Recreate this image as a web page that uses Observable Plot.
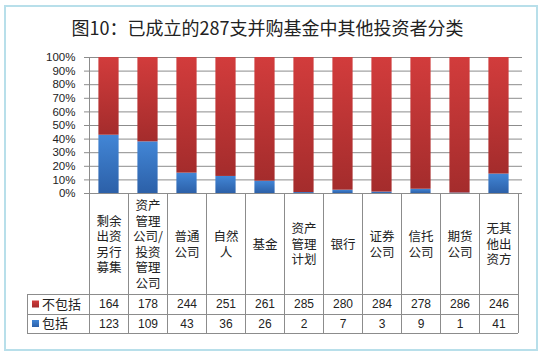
<!DOCTYPE html>
<html><head><meta charset="utf-8">
<script src="https://cdn.jsdelivr.net/npm/d3@7"></script>
<script src="https://cdn.jsdelivr.net/npm/@observablehq/plot@0.6"></script>
<style>
body{margin:0;background:#fff;}
#wrap{position:relative;width:541px;height:353px;overflow:hidden;font-family:"Noto Sans CJK SC",sans-serif;}
#border{position:absolute;left:4px;top:5px;width:530px;height:342px;border:2px solid #b8dfea;}
#title{position:absolute;left:0;top:14px;width:535px;text-align:center;font-size:18px;line-height:26px;color:#222;}
#chart{position:absolute;left:0;top:0;}
</style></head><body>
<div id="wrap"><div id="border"></div><div id="title">图10：已成立的287支并购基金中其他投资者分类</div><div id="chart"></div></div>
<script>
const categories = ["剩余出资另行募集","资产管理公司/投资管理公司","普通公司","自然人","基金","资产管理计划","银行","证券公司","信托公司","期货公司","无其他出资方"];
const categoryLabels = ["剩余\n出资\n另行\n募集","资产\n管理\n公司/\n投资\n管理\n公司","普通\n公司","自然\n人","基金","资产\n管理\n计划","银行","证券\n公司","信托\n公司","期货\n公司","无其\n他出\n资方"];
const excluded = [164,178,244,251,261,285,280,284,278,286,246];
const included = [123,109,43,36,26,2,7,3,9,1,41];
const seriesNames = ["不包括","包括"];
const yTicks = [0,0.1,0.2,0.3,0.4,0.5,0.6,0.7,0.8,0.9,1];

const data = categories.flatMap((c,i)=>[
  {cat:c, series:"包括", value:included[i]},
  {cat:c, series:"不包括", value:excluded[i]}
]);

const fontLatin = "'Liberation Sans', Arial, sans-serif";
const fontCJK = "'Noto Sans CJK SC', sans-serif";

const plot = Plot.plot({
  width:541, height:353,
  marginLeft:84, marginRight:19, marginTop:57, marginBottom:160,
  style:{fontFamily:fontLatin, fontSize:"11px", color:"#222", background:"transparent"},
  x:{domain:categories, padding:0, axis:null},
  y:{domain:[0,1], axis:null},
  color:{domain:seriesNames, range:["url(#gRed)","url(#gBlue)"]},
  marks:[
    Plot.gridY({ticks:yTicks, stroke:"#8c8c8c", strokeOpacity:1}),
    Plot.axisY({ticks:yTicks, tickFormat:d3.format(".0%"), tickSize:0, tickPadding:9, label:null, fontSize:11.5}),
    Plot.barY(data, Plot.stackY({x:"cat", y:"value", fill:"series", offset:"normalize", insetLeft:9.4, insetRight:9.4})),
    Plot.text(categories, {x:d=>d, text:(d,i)=>categoryLabels[i], frameAnchor:"bottom", dy:50.5, lineAnchor:"middle", lineHeight:1.24, fontSize:12.5, fontFamily:fontCJK, fill:"#222"}),
    Plot.text(categories, {x:d=>d, text:(d,i)=>String(excluded[i]), frameAnchor:"bottom", dy:111, lineAnchor:"middle", fontSize:12, fill:"#222"}),
    Plot.text(categories, {x:d=>d, text:(d,i)=>String(included[i]), frameAnchor:"bottom", dy:130.5, lineAnchor:"middle", fontSize:12, fill:"#222"})
  ]
});

const svg = d3.select(plot);
const defs = svg.insert("defs", ":first-child");
const gr = defs.append("linearGradient").attr("id","gRed").attr("x1",0).attr("y1",0).attr("x2",0).attr("y2",1);
gr.append("stop").attr("offset","0%").attr("stop-color","#d23c3c");
gr.append("stop").attr("offset","100%").attr("stop-color","#a42c2c");
const gb = defs.append("linearGradient").attr("id","gBlue").attr("x1",0).attr("y1",0).attr("x2",0).attr("y2",1);
gb.append("stop").attr("offset","0%").attr("stop-color","#4286d6");
gb.append("stop").attr("offset","100%").attr("stop-color","#2c60a8");

// table grid, aligned with the plot's scales
const xs = plot.scale("x"), ys = plot.scale("y");
const y0 = ys.apply(0), yTop = ys.apply(1);
const bounds = categories.map(c=>xs.apply(c));
bounds.push(xs.apply(categories[categories.length-1]) + xs.bandwidth);
const xL = bounds[0], xR = bounds[bounds.length-1];
const rowCat = y0 + 101, rowEx = y0 + 121, rowIn = y0 + 140;
const labelLeft = 27;
const g = svg.append("g").attr("stroke","#8c8c8c").attr("stroke-width",1).attr("shape-rendering","crispEdges");
g.append("line").attr("x1",xL).attr("x2",xL).attr("y1",yTop).attr("y2",rowIn);
bounds.slice(1).forEach(b=>g.append("line").attr("x1",b).attr("x2",b).attr("y1",y0).attr("y2",rowIn));
g.append("line").attr("x1",xL).attr("x2",xR).attr("y1",y0).attr("y2",y0);
[rowCat,rowEx,rowIn].forEach(yy=>g.append("line").attr("x1",labelLeft).attr("x2",xR).attr("y1",yy).attr("y2",yy));
g.append("line").attr("x1",labelLeft).attr("x2",labelLeft).attr("y1",rowCat).attr("y2",rowIn);

// row labels with legend swatches
const rows = [{name:seriesNames[0], fill:"url(#gRed)", cy:(rowCat+rowEx)/2},{name:seriesNames[1], fill:"url(#gBlue)", cy:(rowEx+rowIn)/2}];
const lg = svg.append("g").attr("text-anchor","start");
rows.forEach(r=>{
  lg.append("rect").attr("x",32).attr("y",r.cy-3.5).attr("width",7).attr("height",7).attr("fill",r.fill);
  lg.append("text").attr("x",42).attr("y",r.cy).attr("dy","0.36em").attr("text-anchor","start").attr("font-size",13).attr("font-family",fontCJK).attr("fill","#222").text(r.name);
});

document.getElementById("chart").appendChild(plot);
</script>
</body></html>
